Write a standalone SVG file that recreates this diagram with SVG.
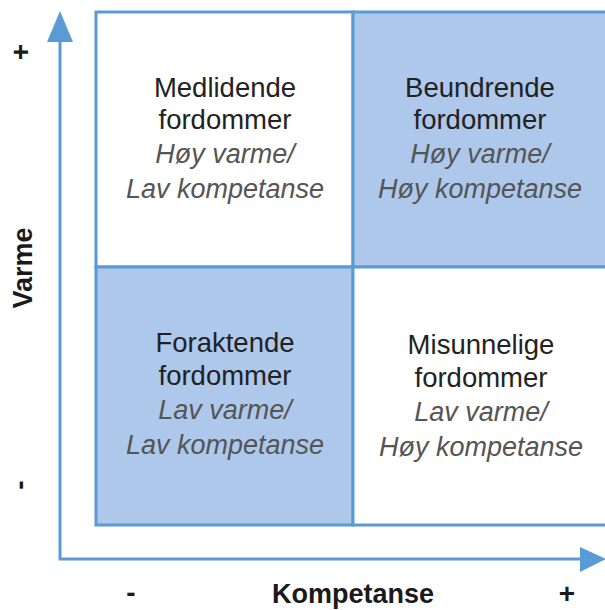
<svg xmlns="http://www.w3.org/2000/svg" width="605" height="610" viewBox="0 0 605 610">
<defs>
<style>
.cell{stroke:#5b9bd5;stroke-width:3}
.w{fill:#ffffff}
.b{fill:#adc8ea}
.t{font-family:"Liberation Sans",Arial,sans-serif;font-size:27.5px;fill:#222;text-anchor:middle}
.i{font-family:"Liberation Sans",Arial,sans-serif;font-size:27px;font-style:italic;fill:#555;text-anchor:middle}
.ax{font-family:"Liberation Sans",Arial,sans-serif;font-size:27px;font-weight:bold;fill:#1a1a1a;text-anchor:middle}
.pm{font-family:"Liberation Sans",Arial,sans-serif;font-size:28px;font-weight:bold;fill:#1a1a1a;text-anchor:middle}
.axis{stroke:#5b9bd5;stroke-width:3;fill:none}
.head{fill:#5b9bd5}
</style>
</defs>
<rect width="605" height="610" fill="#ffffff"/>
<g id="q-medlidende">
<rect class="cell w" x="96" y="12" width="257" height="255"/>
<text class="t" x="225" y="97">Medlidende</text>
<text class="t" x="225" y="129">fordommer</text>
<text class="i" x="225" y="163">Høy varme/</text>
<text class="i" x="225" y="198">Lav kompetanse</text>
</g>
<g id="q-beundrende">
<rect class="cell b" x="353" y="12" width="256" height="255"/>
<text class="t" x="480" y="97">Beundrende</text>
<text class="t" x="480" y="129">fordommer</text>
<text class="i" x="480" y="163">Høy varme/</text>
<text class="i" x="480" y="198">Høy kompetanse</text>
</g>
<g id="q-foraktende">
<rect class="cell b" x="96" y="267" width="257" height="258"/>
<text class="t" x="225" y="352">Foraktende</text>
<text class="t" x="225" y="385">fordommer</text>
<text class="i" x="225" y="419">Lav varme/</text>
<text class="i" x="225" y="454">Lav kompetanse</text>
</g>
<g id="q-misunnelige">
<rect class="cell w" x="353" y="267" width="256" height="258"/>
<text class="t" x="481" y="354">Misunnelige</text>
<text class="t" x="481" y="387">fordommer</text>
<text class="i" x="481" y="421">Lav varme/</text>
<text class="i" x="481" y="456">Høy kompetanse</text>
</g>
<g id="connectors">
<polyline class="axis" points="60,40 60,559 582,559"/>
<polygon class="head" points="60,11 47,42 73,42"/>
<polygon class="head" points="606,559 580,547 580,572"/>
</g>
<g id="labels">
<text class="ax" transform="translate(32,268) rotate(-90)">Varme</text>
<text class="ax" x="353" y="603">Kompetanse</text>
<text class="pm" transform="translate(30,52) rotate(-90)">+</text>
<text class="pm" transform="translate(29,485) rotate(-90)">-</text>
<text class="pm" x="131" y="602">-</text>
<text class="pm" x="567" y="603">+</text>
</g>
</svg>
